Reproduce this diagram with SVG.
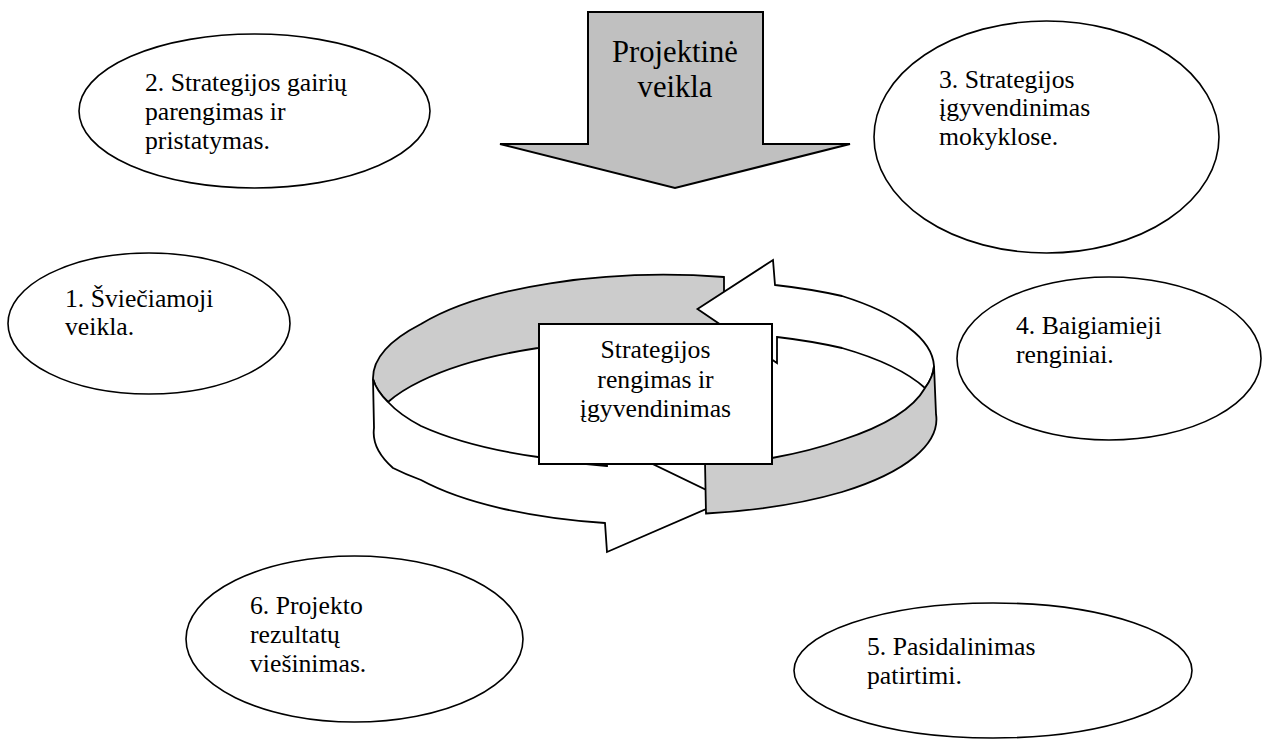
<svg xmlns="http://www.w3.org/2000/svg" width="1263" height="742" viewBox="0 0 1263 742" font-family="'Liberation Serif', 'Times New Roman', Tinos, 'DejaVu Serif', serif">
<style>
.bg{fill:#ffffff}
.ell{fill:#ffffff;stroke:#000;stroke-width:1.6}
.t{font-family:'Liberation Serif','Times New Roman',Tinos,'DejaVu Serif',serif;font-size:25.7px;fill:#000}
.tc{text-anchor:middle}
.big{font-size:30.6px}
.ring{stroke:#000;stroke-width:1.8;stroke-linejoin:miter}
.gray{fill:#cccccc}
.white{fill:#ffffff}
.box{fill:#ffffff;stroke:#000;stroke-width:2}
.arrow{fill:#c0c0c0;stroke:#000;stroke-width:2;stroke-linejoin:miter}
</style>
<rect class="bg" x="0" y="0" width="1263" height="742"/>

<g id="node-projektine">
<polygon class="arrow" points="588,12 763,12 763,144 850,144 675,188 500,144 588,144"/>
<text class="t big tc" x="675" y="61.5">Projektinė</text>
<text class="t big tc" x="675" y="97">veikla</text>
</g>

<g id="node-2">
<ellipse class="ell" cx="254.5" cy="111" rx="175.5" ry="77"/>
<text class="t" x="145" y="91">2. Strategijos gairių</text>
<text class="t" x="145" y="120">parengimas ir</text>
<text class="t" x="145" y="149">pristatymas.</text>
</g>

<g id="node-3">
<ellipse class="ell" cx="1046.5" cy="137" rx="172.5" ry="116"/>
<text class="t" x="939" y="87.5">3. Strategijos</text>
<text class="t" x="939" y="116">įgyvendinimas</text>
<text class="t" x="939" y="144.5">mokyklose.</text>
</g>

<g id="node-1">
<ellipse class="ell" cx="149" cy="323.5" rx="141" ry="70.5"/>
<text class="t" x="65" y="306.5">1. Šviečiamoji</text>
<text class="t" x="65" y="335">veikla.</text>
</g>

<g id="node-4">
<ellipse class="ell" cx="1109" cy="358.5" rx="152" ry="81.5"/>
<text class="t" x="1016" y="334">4. Baigiamieji</text>
<text class="t" x="1016" y="362.5">renginiai.</text>
</g>

<g id="node-6">
<ellipse class="ell" cx="354.5" cy="639" rx="168.5" ry="83"/>
<text class="t" x="250" y="614">6. Projekto</text>
<text class="t" x="250" y="642.5">rezultatų</text>
<text class="t" x="250" y="672">viešinimas.</text>
</g>

<g id="node-5">
<ellipse class="ell" cx="993" cy="670.5" rx="199" ry="67.5"/>
<text class="t" x="867" y="655">5. Pasidalinimas</text>
<text class="t" x="867" y="684">patirtimi.</text>
</g>

<g id="connectors">
<path class="ring gray" d="M 724 277 A 280 97 0 0 0 421 324 A 280 97 0 0 0 373 379 A 280 97 0 0 0 388 402 A 280 97 0 0 1 421 381 A 280 97 0 0 1 538 348 A 280 97 0 0 1 724 336 Z"/>
<path class="ring white" d="M 697.5 309 L 773 260 L 775 285 A 280 97 0 0 1 842 296 A 280 97 0 0 1 934 366 A 280 97 0 0 1 925 388 A 280 97 0 0 0 842 348 A 280 97 0 0 0 777 337 L 777 363 Z"/>
<path class="ring white" d="M 373 379 L 374 428 A 280 97 0 0 0 393 468 A 280 97 0 0 0 421 480 A 280 97 0 0 0 605 523 L 607 552 L 727 500 L 607 442 L 607 466 A 280 97 0 0 1 538 457 A 280 97 0 0 1 421 426 A 280 97 0 0 1 388 402 A 280 97 0 0 1 373 379 Z"/>
<path class="ring gray" d="M 934 366 L 936 414 A 280 97 0 0 1 842 492 A 280 97 0 0 1 706 513.5 L 705 462 A 280 97 0 0 0 772 458 A 280 97 0 0 0 842 440 A 280 97 0 0 0 925 388 A 280 97 0 0 0 934 366 Z"/>
</g>

<g id="node-center">
<rect class="box" x="539" y="324" width="233" height="140"/>
<text class="t tc" x="655.5" y="358">Strategijos</text>
<text class="t tc" x="655.5" y="387.5">rengimas ir</text>
<text class="t tc" x="655.5" y="416.5">įgyvendinimas</text>
</g>
</svg>
